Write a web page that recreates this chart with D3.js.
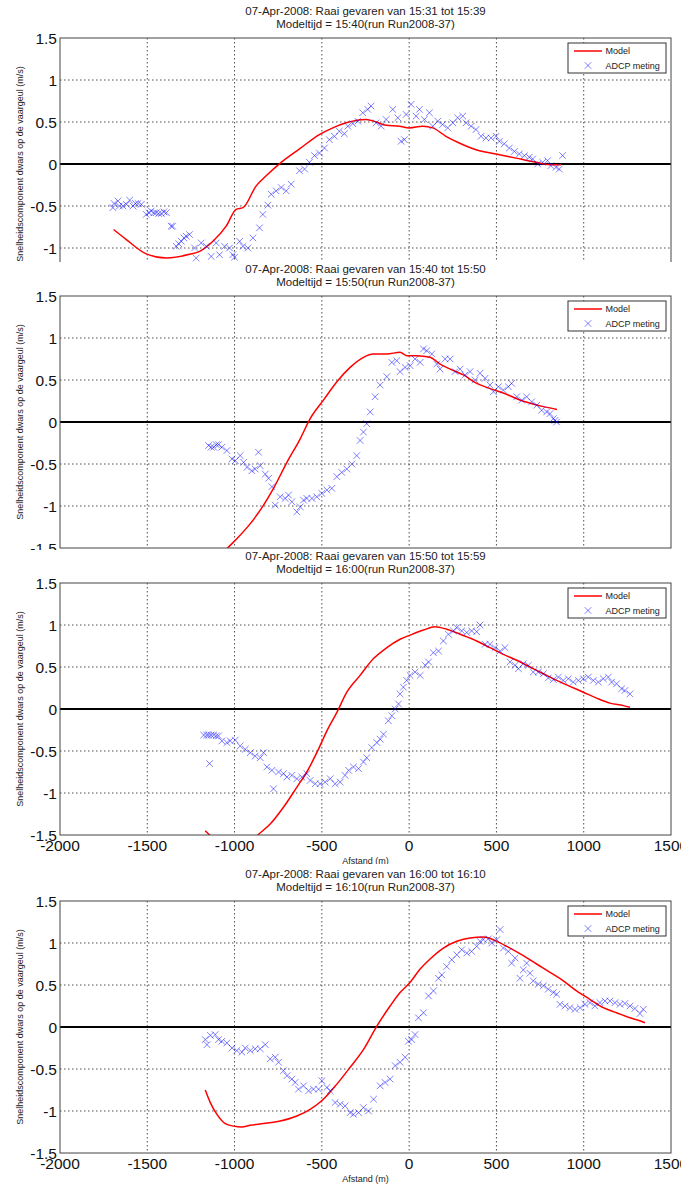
<!DOCTYPE html>
<html>
<head>
<meta charset="utf-8">
<script src="https://cdn.jsdelivr.net/npm/d3@7"></script>
<style>
  body { margin: 0; background: #fff; }
  svg { display: block; font-family: "Liberation Sans", Arial, sans-serif; }
</style>
</head>
<body>
<script>
// titles per panel
const titles = [
  '07-Apr-2008: Raai gevaren van 15:31 tot 15:39',
  '07-Apr-2008: Raai gevaren van 15:40 tot 15:50',
  '07-Apr-2008: Raai gevaren van 15:50 tot 15:59',
  '07-Apr-2008: Raai gevaren van 16:00 tot 16:10'
]
const subtitles = [
  'Modeltijd = 15:40(run Run2008-37)',
  'Modeltijd = 15:50(run Run2008-37)',
  'Modeltijd = 16:00(run Run2008-37)',
  'Modeltijd = 16:10(run Run2008-37)'
]
const xTicks = [-2000, -1500, -1000, -500, 0, 500, 1000, 1500]
const yTicks = [-1.5, -1, -0.5, 0, 0.5, 1, 1.5]
const yLabel = 'Snelheidscomponent dwars op de vaargeul (m/s)'
const xLabel = 'Afstand (m)'
const legendNames = ['Model', 'ADCP meting']

// [afstand, snelheid]
const model1 = [[-1693,-0.78],[-1620,-0.90],[-1506,-1.07],[-1391,-1.12],[-1258,-1.075],[-1200,-1.04],[-1124,-0.92],
  [-1048,-0.74],[-991,-0.54],[-952,-0.52],[-876,-0.26],[-819,-0.14],[-733,0.02],[-628,0.18],[-514,0.35],[-437,0.43],
  [-361,0.49],[-246,0.53],[-189,0.50],[-132,0.46],[-56,0.45],[1,0.43],[78,0.45],[135,0.43],[211,0.33],[287,0.25],
  [383,0.17],[497,0.12],[612,0.07],[727,0.02],[822,-0.01],[870,-0.01]]
const adcp1 = [[-1697,-0.52],[-1690,-0.47],[-1668,-0.44],[-1660,-0.50],[-1639,-0.50],[-1620,-0.48],[-1601,-0.43],
  [-1582,-0.50],[-1568,-0.47],[-1553,-0.47],[-1534,-0.48],[-1506,-0.60],[-1490,-0.58],[-1477,-0.56],[-1462,-0.58],
  [-1449,-0.58],[-1435,-0.59],[-1420,-0.59],[-1405,-0.57],[-1391,-0.58],[-1363,-0.74],[-1355,-0.74],[-1334,-0.98],
  [-1320,-0.95],[-1305,-0.92],[-1290,-0.88],[-1277,-0.86],[-1258,-0.84],[-1229,-1.0],[-1220,-1.12],[-1191,-0.94],
  [-1162,-0.98],[-1134,-1.10],[-1105,-0.94],[-1086,-1.08],[-1057,-0.98],[-1029,-1.0],[-1010,-1.08],[-1000,-1.11],
  [-971,-0.92],[-952,-0.98],[-924,-1.0],[-895,-0.88],[-857,-0.76],[-838,-0.60],[-809,-0.49],[-790,-0.36],[-762,-0.32],
  [-733,-0.28],[-704,-0.32],[-676,-0.24],[-628,-0.08],[-599,-0.06],[-571,0.02],[-542,0.10],[-514,0.13],[-485,0.19],
  [-457,0.29],[-428,0.33],[-400,0.39],[-371,0.36],[-351,0.45],[-323,0.48],[-294,0.51],[-266,0.61],[-237,0.65],
  [-218,0.69],[-189,0.49],[-161,0.45],[-132,0.53],[-94,0.65],[-65,0.55],[-46,0.27],[-27,0.29],[-17,0.59],[11,0.71],
  [40,0.57],[59,0.65],[87,0.53],[116,0.61],[135,0.45],[164,0.51],[192,0.47],[221,0.43],[250,0.49],[278,0.55],
  [307,0.57],[326,0.49],[355,0.45],[383,0.41],[412,0.33],[440,0.31],[469,0.31],[498,0.33],[517,0.27],[545,0.24],
  [574,0.19],[603,0.15],[631,0.12],[660,0.10],[688,0.08],[708,0.06],[736,0.0],[765,0.02],[793,0.04],[812,-0.02],
  [841,-0.04],[860,-0.06],[879,0.10]]

const model2 = [[-1150,-1.80],[-1044,-1.51],[-987,-1.39],[-910,-1.21],[-834,-0.99],[-777,-0.79],[-700,-0.48],
  [-624,-0.20],[-567,0.04],[-491,0.26],[-414,0.48],[-338,0.65],[-262,0.77],[-205,0.81],[-128,0.81],[-52,0.83],
  [-14,0.79],[44,0.79],[120,0.77],[177,0.69],[235,0.63],[311,0.56],[387,0.46],[460,0.40],[547,0.34],[623,0.27],
  [699,0.22],[776,0.18],[847,0.15]]
const adcp2 = [[-1149,-0.28],[-1135,-0.30],[-1120,-0.30],[-1105,-0.27],[-1092,-0.27],[-1073,-0.30],[-1044,-0.34],
  [-1015,-0.44],[-996,-0.46],[-968,-0.40],[-948,-0.48],[-929,-0.54],[-901,-0.58],[-882,-0.56],[-863,-0.36],
  [-853,-0.52],[-824,-0.62],[-805,-0.67],[-786,-0.77],[-767,-0.99],[-739,-0.89],[-710,-0.91],[-691,-0.87],
  [-672,-0.95],[-643,-1.07],[-624,-1.01],[-605,-0.93],[-586,-0.91],[-557,-0.91],[-529,-0.89],[-500,-0.85],
  [-471,-0.81],[-443,-0.79],[-414,-0.65],[-386,-0.60],[-357,-0.56],[-328,-0.50],[-300,-0.40],[-281,-0.22],
  [-262,-0.12],[-243,-0.02],[-223,0.12],[-195,0.30],[-166,0.44],[-128,0.54],[-99,0.71],[-71,0.73],[-52,0.60],
  [-23,0.65],[6,0.67],[34,0.75],[63,0.71],[82,0.87],[101,0.85],[130,0.81],[158,0.69],[177,0.63],[206,0.75],
  [235,0.75],[263,0.60],[292,0.63],[320,0.56],[349,0.60],[378,0.50],[406,0.58],[435,0.52],[463,0.44],[483,0.36],
  [511,0.42],[540,0.38],[568,0.42],[587,0.46],[616,0.30],[645,0.26],[673,0.30],[702,0.24],[731,0.20],[759,0.14],
  [788,0.12],[807,0.10],[826,0.04],[836,0.02],[845,0.0]]

const model3 = [[-1168,-1.45],[-1139,-1.51],[-1060,-1.72],[-960,-1.72],[-872,-1.51],[-796,-1.37],[-720,-1.17],
  [-643,-0.93],[-586,-0.75],[-529,-0.52],[-471,-0.26],[-414,-0.04],[-357,0.20],[-281,0.40],[-204,0.60],[-128,0.73],
  [-52,0.83],[6,0.88],[82,0.94],[148,0.98],[215,0.95],[292,0.89],[387,0.81],[463,0.73],[540,0.65],[616,0.58],
  [692,0.50],[768,0.42],[845,0.34],[921,0.27],[998,0.20],[1074,0.13],[1150,0.07],[1227,0.04],[1265,0.02]]
const adcp3 = [[-1177,-0.31],[-1160,-0.31],[-1149,-0.31],[-1135,-0.31],[-1120,-0.31],[-1105,-0.32],[-1092,-0.32],
  [-1073,-0.38],[-1044,-0.40],[-1025,-0.38],[-996,-0.37],[-968,-0.44],[-939,-0.48],[-910,-0.52],[-882,-0.56],
  [-853,-0.58],[-834,-0.52],[-815,-0.69],[-786,-0.73],[-777,-0.95],[-748,-0.75],[-720,-0.77],[-700,-0.81],
  [-672,-0.79],[-643,-0.83],[-615,-0.81],[-586,-0.77],[-567,-0.85],[-538,-0.89],[-510,-0.89],[-481,-0.87],
  [-452,-0.83],[-424,-0.89],[-395,-0.87],[-367,-0.79],[-347,-0.73],[-319,-0.69],[-290,-0.71],[-262,-0.63],
  [-243,-0.58],[-214,-0.46],[-185,-0.40],[-166,-0.36],[-147,-0.30],[-119,-0.14],[-99,-0.08],[-80,0.0],[-61,0.06],
  [-52,0.18],[-33,0.26],[-14,0.34],[5,0.40],[34,0.44],[63,0.40],[92,0.52],[111,0.56],[139,0.67],[168,0.69],
  [196,0.81],[225,0.89],[254,0.93],[273,0.97],[301,0.93],[330,0.91],[358,0.93],[387,0.92],[406,1.0],[435,0.77],
  [463,0.77],[492,0.73],[521,0.69],[549,0.73],[578,0.56],[607,0.52],[626,0.48],[654,0.54],[683,0.52],[711,0.44],
  [740,0.44],[769,0.42],[797,0.37],[826,0.35],[855,0.38],[883,0.34],[912,0.36],[940,0.32],[969,0.34],[998,0.36],
  [1026,0.38],[1055,0.34],[1084,0.32],[1112,0.36],[1141,0.38],[1160,0.32],[1188,0.30],[1217,0.24],[1236,0.22],
  [1265,0.18],[-1143,-0.65]]

const model4 = [[-1168,-0.75],[-1139,-0.90],[-1101,-1.04],[-1053,-1.15],[-1006,-1.18],[-958,-1.19],[-910,-1.17],
  [-834,-1.15],[-739,-1.12],[-643,-1.06],[-567,-0.98],[-491,-0.86],[-414,-0.68],[-338,-0.48],[-262,-0.27],
  [-185,0.01],[-109,0.25],[-52,0.41],[5,0.53],[63,0.69],[120,0.81],[196,0.94],[273,1.02],[349,1.06],[425,1.07],
  [502,1.02],[578,0.94],[654,0.85],[730,0.75],[807,0.65],[883,0.55],[959,0.43],[1035,0.33],[1112,0.23],
  [1188,0.17],[1265,0.11],[1313,0.08],[1351,0.05]]
const adcp4 = [[-1168,-0.15],[-1158,-0.21],[-1139,-0.10],[-1111,-0.09],[-1092,-0.15],[-1073,-0.17],[-1044,-0.19],
  [-1015,-0.25],[-987,-0.28],[-958,-0.30],[-939,-0.25],[-910,-0.28],[-882,-0.26],[-853,-0.26],[-824,-0.21],
  [-796,-0.38],[-767,-0.36],[-748,-0.42],[-720,-0.52],[-700,-0.58],[-672,-0.62],[-653,-0.66],[-634,-0.74],
  [-605,-0.70],[-576,-0.76],[-548,-0.74],[-519,-0.74],[-500,-0.64],[-471,-0.72],[-452,-0.76],[-424,-0.90],
  [-395,-0.92],[-367,-0.94],[-338,-1.02],[-319,-1.04],[-290,-1.02],[-262,-0.96],[-233,-1.0],[-204,-0.86],
  [-166,-0.70],[-138,-0.66],[-109,-0.62],[-80,-0.46],[-52,-0.42],[-23,-0.36],[-4,-0.17],[15,-0.15],[34,-0.09],
  [53,0.11],[82,0.17],[111,0.37],[139,0.43],[168,0.58],[187,0.62],[215,0.72],[244,0.80],[273,0.86],[301,0.92],
  [330,0.88],[358,0.90],[387,0.96],[406,1.02],[425,1.04],[454,1.05],[473,1.0],[502,1.04],[521,1.16],[540,0.94],
  [568,0.90],[587,0.76],[607,0.82],[635,0.58],[654,0.68],[673,0.76],[692,0.64],[711,0.55],[740,0.51],[769,0.49],
  [797,0.45],[826,0.41],[845,0.39],[864,0.27],[893,0.25],[921,0.23],[950,0.21],[979,0.23],[1007,0.27],[1036,0.29],
  [1064,0.25],[1093,0.29],[1122,0.31],[1150,0.31],[1179,0.29],[1208,0.27],[1236,0.28],[1265,0.25],[1293,0.22],
  [1322,0.16],[1341,0.21]]

const models = [model1, model2, model3, model4]
const adcps = [adcp1, adcp2, adcp3, adcp4]

// the four stacked MATLAB figures, each overlapping the one above
const layout = [
  {top: 38, regionTop: 0, regionBottom: 262, xAxis: false},
  {top: 296, regionTop: 262, regionBottom: 550, xAxis: false},
  {top: 583, regionTop: 550, regionBottom: 864, xAxis: true},
  {top: 901, regionTop: 864, regionBottom: 1184, xAxis: true}
]

const width = 681
const height = 1184
const left = 60
const right = 671
const axH = 252

const svg = d3.select('body').append('svg')
  .attr('width', width)
  .attr('height', height)

const xScale = d3.scaleLinear()
  .domain([-2000, 1500])
  .range([left, right])

const crossPath = 'M-3.3,-3.3L3.3,3.3M-3.3,3.3L3.3,-3.3'

layout.forEach((p, i) => {
  const bottom = p.top + axH
  const yScale = d3.scaleLinear()
    .domain([-1.5, 1.5])
    .range([bottom, p.top])

  svg.append('clipPath').attr('id', 'region' + i)
    .append('rect')
    .attr('x', 0).attr('y', p.regionTop)
    .attr('width', width).attr('height', p.regionBottom - p.regionTop)
  svg.append('clipPath').attr('id', 'axes' + i)
    .append('rect')
    .attr('x', left).attr('y', p.top)
    .attr('width', right - left).attr('height', axH)

  const g = svg.append('g').attr('clip-path', `url(#region${i})`)

  g.append('rect')
    .attr('x', 0).attr('y', p.regionTop)
    .attr('width', width).attr('height', p.regionBottom - p.regionTop)
    .attr('fill', '#fff')

  // grid
  g.append('g').selectAll('line')
    .data(xTicks.slice(1, -1))
    .enter()
    .append('line')
    .attr('x1', d => xScale(d)).attr('x2', d => xScale(d))
    .attr('y1', p.top).attr('y2', bottom)
    .attr('stroke', '#222')
    .attr('stroke-width', 0.8)
    .attr('stroke-dasharray', '1.5,2.5')
  g.append('g').selectAll('line')
    .data(yTicks.slice(1, -1))
    .enter()
    .append('line')
    .attr('x1', left).attr('x2', right)
    .attr('y1', d => yScale(d)).attr('y2', d => yScale(d))
    .attr('stroke', '#222')
    .attr('stroke-width', 0.8)
    .attr('stroke-dasharray', '1.5,2.5')

  // zero line
  g.append('line')
    .attr('x1', xScale(-2000)).attr('x2', xScale(1500))
    .attr('y1', yScale(0)).attr('y2', yScale(0))
    .attr('stroke', '#000')
    .attr('stroke-width', 1.8)

  const plot = g.append('g').attr('clip-path', `url(#axes${i})`)

  plot.append('path')
    .datum(models[i])
    .attr('d', d3.line().x(d => xScale(d[0])).y(d => yScale(d[1])).curve(d3.curveMonotoneX))
    .attr('fill', 'none')
    .attr('stroke', '#ff0000')
    .attr('stroke-width', 1.5)

  plot.append('g').selectAll('path')
    .data(adcps[i])
    .enter()
    .append('path')
    .attr('d', crossPath)
    .attr('transform', d => `translate(${xScale(d[0])},${yScale(d[1])})`)
    .attr('fill', 'none')
    .attr('stroke', '#0000ff')
    .attr('stroke-opacity', 0.5)
    .attr('stroke-width', 1)

  // box
  g.append('rect')
    .attr('x', left).attr('y', p.top)
    .attr('width', right - left).attr('height', axH)
    .attr('fill', 'none')
    .attr('stroke', '#444')
    .attr('stroke-width', 1)

  // tick labels (skip the ones lying wholly under the next figure)
  g.append('g').selectAll('text')
    .data(yTicks.filter(d => yScale(d) - 5 < p.regionBottom))
    .enter()
    .append('text')
    .attr('x', left - 3)
    .attr('y', d => yScale(d))
    .attr('dy', '0.36em')
    .attr('text-anchor', 'end')
    .attr('font-size', 15.5)
    .attr('fill', '#111')
    .text(d => d)

  // the upper two figures have their x axis hidden under the next one
  if (p.xAxis) {
    g.append('g').selectAll('text')
      .data(xTicks)
      .enter()
      .append('text')
      .attr('x', d => xScale(d))
      .attr('y', bottom + 15.5)
      .attr('text-anchor', 'middle')
      .attr('font-size', 15.5)
      .attr('fill', '#111')
      .text(d => d)

    g.append('text')
      .attr('x', (left + right) / 2)
      .attr('y', bottom + 29)
      .attr('text-anchor', 'middle')
      .attr('font-size', 9)
      .attr('fill', '#222')
      .text(xLabel)
  }

  g.append('text')
    .attr('transform', `translate(23,${(p.top + bottom) / 2}) rotate(-90)`)
    .attr('text-anchor', 'middle')
    .attr('font-size', 9)
    .attr('fill', '#222')
    .text(yLabel)

  g.append('text')
    .attr('x', (left + right) / 2)
    .attr('y', p.top - 23)
    .attr('text-anchor', 'middle')
    .attr('font-size', 11.5)
    .attr('fill', '#222')
    .text(titles[i])
  g.append('text')
    .attr('x', (left + right) / 2)
    .attr('y', p.top - 10.5)
    .attr('text-anchor', 'middle')
    .attr('font-size', 11.5)
    .attr('fill', '#222')
    .text(subtitles[i])

  // legend
  const lg = g.append('g').attr('transform', `translate(${right - 103},${p.top + 5})`)
  lg.append('rect')
    .attr('width', 98).attr('height', 30)
    .attr('fill', '#fff')
    .attr('stroke', '#333')
  lg.append('line')
    .attr('x1', 6).attr('x2', 34)
    .attr('y1', 8).attr('y2', 8)
    .attr('stroke', '#ff0000')
    .attr('stroke-width', 1.5)
  lg.append('path')
    .attr('d', crossPath)
    .attr('transform', 'translate(20,22.5)')
    .attr('fill', 'none')
    .attr('stroke', '#0000ff')
    .attr('stroke-opacity', 0.5)
  lg.selectAll('text')
    .data(legendNames)
    .enter()
    .append('text')
    .attr('x', 37.5)
    .attr('y', (d, j) => 11.3 + j * 14.5)
    .attr('font-size', 9)
    .attr('fill', '#222')
    .text(d => d)
})
</script>
</body>
</html>
